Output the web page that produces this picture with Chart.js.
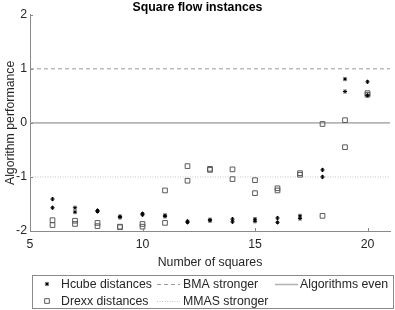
<!DOCTYPE html>
<html>
<head>
<meta charset="utf-8">
<script src="https://cdn.jsdelivr.net/npm/chart.js@4/dist/chart.umd.min.js"></script>
<style>
  body { margin: 0; background: #fff; }
  #wrap { width: 395px; height: 310px; position: relative; }
</style>
</head>
<body>
<div id="wrap"><canvas id="chart"></canvas></div>
<script>
// ---------- data ----------
const squares = [6, 7, 8, 9, 10, 11, 12, 13, 14, 15, 16, 17, 18, 19, 20];
const hcubeA  = [-1.41, -1.57, -1.62, -1.73, -1.68, -1.71, -1.82, -1.79, -1.78, -1.78, -1.76, -1.72, -0.87, 0.81, 0.76];
const hcubeB  = [-1.57, -1.65, -1.64, -1.75, -1.70, -1.73, -1.84, -1.81, -1.83, -1.82, -1.84, -1.77, -1.00, 0.58, 0.51];
const drexxA  = [-1.80, -1.81, -1.85, -1.92, -1.87, -1.25, -0.80, -0.85, -0.86, -1.06, -1.21, -0.93, -0.02, 0.05, 0.55];
const drexxB  = [-1.89, -1.87, -1.91, -1.93, -1.92, -1.85, -1.07, -0.87, -1.04, -1.30, -1.25, -0.96, -1.72, -0.45, 0.52];
const xRange  = [5, 21];
const xTicks  = [5, 10, 15, 20];
const yTicks  = [-2, -1, 0, 1, 2];
const refLevels = { bma: 1, even: 0, mmas: -1 };

const FONT = '"Liberation Sans", Arial, sans-serif';
const FS = 12.3;
const TXT = '#262626';
const AXIS = '#8a8a8a';

// ---------- helpers ----------
function pairs(xs, a, b) {
  const out = [];
  xs.forEach((x, i) => { out.push({ x, y: a[i] }); out.push({ x, y: b[i] }); });
  return out;
}
function refLine(y) {
  return xRange.map(x => ({ x, y }));
}

const hcubeStyle = { pointStyle: 'star', pointRadius: 2.1, borderColor: '#000', borderWidth: 1 };
const drexxStyle = { pointStyle: 'rect', pointRadius: 3.3, borderColor: '#5a5a5a', borderWidth: 1 };

const datasets = [
  { label: 'Algorithms even', type: 'line', data: refLine(refLevels.even),
    borderColor: '#b4b4b4', borderWidth: 1.6, pointRadius: 0, order: 3 },
  { label: 'BMA stronger', type: 'line', data: refLine(refLevels.bma),
    borderColor: '#9a9a9a', borderWidth: 1, borderDash: [4, 3], pointRadius: 0, order: 3 },
  { label: 'MMAS stronger', type: 'line', data: refLine(refLevels.mmas),
    borderColor: '#c4c4c4', borderWidth: 1, borderDash: [1, 1.5], pointRadius: 0, order: 3 },
  { label: 'Drexx distances', data: pairs(squares, drexxA, drexxB),
    backgroundColor: 'rgba(0,0,0,0)', ...drexxStyle, order: 2 },
  { label: 'Hcube distances', data: pairs(squares, hcubeA, hcubeB),
    backgroundColor: '#000', ...hcubeStyle, order: 1 }
];

// inward tick marks (matlab style)
const tickMarks = {
  id: 'tickMarks',
  afterDatasetsDraw(chart) {
    const { ctx, chartArea, scales } = chart;
    ctx.save();
    ctx.strokeStyle = AXIS;
    ctx.lineWidth = 1;
    ctx.beginPath();
    xTicks.forEach(v => {
      const px = Math.round(scales.x.getPixelForValue(v)) + 0.5;
      ctx.moveTo(px, chartArea.bottom); ctx.lineTo(px, chartArea.bottom - 3);
    });
    yTicks.forEach(v => {
      const py = Math.round(scales.y.getPixelForValue(v)) + 0.5;
      ctx.moveTo(chartArea.left, py); ctx.lineTo(chartArea.left + 3, py);
    });
    ctx.stroke();
    ctx.restore();
  }
};

// boxed legend, 3 columns x 2 rows
const boxLegend = {
  id: 'boxLegend',
  afterDraw(chart) {
    const { ctx } = chart;
    const ds = chart.data.datasets;
    const byLabel = l => ds.find(d => d.label === l);
    const box = { x: 32.5, y: 275.5, w: 361, h: 33 };
    const rows = [284, 301];
    const items = [
      { label: 'Hcube distances', kind: 'point', col: 0, row: 0 },
      { label: 'Drexx distances', kind: 'point', col: 0, row: 1 },
      { label: 'BMA stronger', kind: 'line', col: 1, row: 0 },
      { label: 'MMAS stronger', kind: 'line', col: 1, row: 1 },
      { label: 'Algorithms even', kind: 'line', col: 2, row: 0 }
    ];
    const cols = [{ mark: 47, text: 61 }, { lx: 157, text: 183 }, { lx: 275, text: 300 }];

    ctx.save();
    ctx.fillStyle = '#fff';
    ctx.fillRect(box.x, box.y, box.w, box.h);
    ctx.strokeStyle = '#8a8a8a';
    ctx.lineWidth = 1;
    ctx.strokeRect(box.x, box.y, box.w, box.h);

    ctx.font = FS + 'px ' + FONT;
    ctx.textBaseline = 'middle';
    items.forEach(it => {
      const d = byLabel(it.label);
      const c = cols[it.col];
      const y = rows[it.row];
      if (it.kind === 'point') {
        ctx.strokeStyle = d.borderColor;
        ctx.fillStyle = d.backgroundColor;
        ctx.lineWidth = d.borderWidth;
        Chart.helpers.drawPoint(ctx, { pointStyle: d.pointStyle, radius: d.pointRadius, borderWidth: d.borderWidth }, c.mark, y);
      } else {
        ctx.strokeStyle = d.borderColor;
        ctx.lineWidth = d.borderWidth;
        ctx.setLineDash(d.borderDash || []);
        ctx.beginPath();
        ctx.moveTo(c.lx, y + 0.5); ctx.lineTo(c.lx + 23, y + 0.5);
        ctx.stroke();
        ctx.setLineDash([]);
      }
      ctx.fillStyle = TXT;
      ctx.fillText(it.label, c.text, y + 0.5);
    });
    ctx.restore();
  }
};

new Chart(document.getElementById('chart'), {
  type: 'scatter',
  data: { datasets },
  options: {
    responsive: true,
    maintainAspectRatio: false,
    animation: false,
    layout: { padding: { top: 0, right: 0, bottom: 35, left: 0 } },
    plugins: {
      legend: { display: false },
      tooltip: { enabled: false },
      title: {
        display: true,
        text: 'Square flow instances',
        color: '#000',
        font: { family: FONT, size: FS, weight: 'bold' },
        padding: { top: 0, bottom: 0 }
      }
    },
    scales: {
      x: {
        type: 'linear',
        min: xRange[0], max: xRange[1],
        afterFit: s => { s.height = 44; },
        afterBuildTicks: s => { s.ticks = xTicks.map(v => ({ value: v })); },
        grid: { display: false, drawTicks: false },
        border: { display: true, color: AXIS, width: 1 },
        ticks: { color: TXT, font: { family: FONT, size: FS }, padding: 6, maxRotation: 0 },
        title: {
          display: true, text: 'Number of squares', color: TXT,
          font: { family: FONT, size: FS }, padding: { top: 0, bottom: 5 }
        }
      },
      y: {
        min: yTicks[0], max: yTicks[yTicks.length - 1],
        afterFit: s => { s.width = 30; },
        afterBuildTicks: s => { s.ticks = yTicks.map(v => ({ value: v })); },
        grid: { display: false, drawTicks: false },
        border: { display: true, color: AXIS, width: 1 },
        ticks: { color: TXT, font: { family: FONT, size: FS }, padding: 3 },
        title: {
          display: true, text: 'Algorithm performance', color: TXT,
          font: { family: FONT, size: FS }, padding: { top: 3, bottom: 2 }
        }
      }
    }
  },
  plugins: [tickMarks, boxLegend]
});
</script>
</body>
</html>
